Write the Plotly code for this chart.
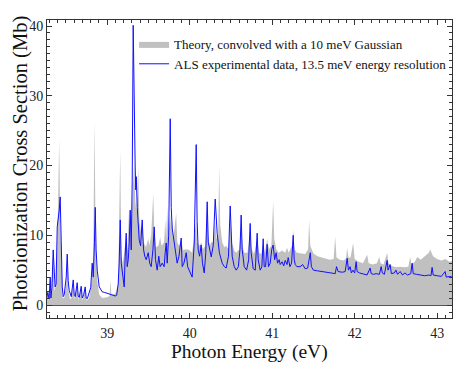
import plotly.graph_objects as go

# Theory, convolved with a 10 meV Gaussian (energy in eV, cross section in Mb)
theory_ev = [
    38.262, 38.28, 38.29, 38.309, 38.32, 38.345, 38.36, 38.38, 38.394, 38.418,
    38.43, 38.442, 38.46, 38.479, 38.503, 38.515, 38.53, 38.55, 38.564, 38.588,
    38.6, 38.636, 38.65, 38.685, 38.7, 38.733, 38.75, 38.782, 38.81, 38.83,
    38.845, 38.86, 38.879, 38.903, 38.94, 39.0, 39.03, 39.04, 39.05, 39.097,
    39.133, 39.158, 39.17, 39.19, 39.23, 39.245, 39.265, 39.28, 39.3, 39.315,
    39.327, 39.34, 39.352, 39.364, 39.376, 39.39, 39.41, 39.424, 39.44, 39.47,
    39.497, 39.51, 39.533, 39.558, 39.57, 39.59, 39.62, 39.642, 39.66, 39.69,
    39.703, 39.715, 39.727, 39.74, 39.764, 39.776, 39.788, 39.8, 39.836, 39.85,
    39.87, 39.897, 39.92, 39.958, 39.994, 40.03, 40.065, 40.079, 40.09, 40.12,
    40.139, 40.16, 40.19, 40.212, 40.225, 40.245, 40.261, 40.29, 40.309, 40.325,
    40.345, 40.358, 40.37, 40.394, 40.42, 40.442, 40.47, 40.491, 40.51, 40.54,
    40.564, 40.6, 40.624, 40.64, 40.661, 40.7, 40.733, 40.75, 40.78, 40.818,
    40.84, 40.87, 40.891, 40.91, 40.939, 40.96, 40.99, 41.012, 41.025, 41.05,
    41.08, 41.12, 41.158, 41.18, 41.2, 41.24, 41.255, 41.27, 41.3, 41.35,
    41.4, 41.435, 41.448, 41.462, 41.5, 41.55, 41.6, 41.65, 41.7, 41.745,
    41.764, 41.78, 41.82, 41.86, 41.895, 41.909, 41.925, 41.95, 41.982, 42.0,
    42.05, 42.1, 42.152, 42.17, 42.22, 42.27, 42.297, 42.315, 42.35, 42.394,
    42.41, 42.45, 42.5, 42.55, 42.6, 42.65, 42.673, 42.69, 42.73, 42.758,
    42.8, 42.85, 42.9, 42.915, 42.95, 43.0, 43.05, 43.1, 43.15, 43.182,
]
theory_mb = [
    0.5, 2.0, 0.6, 4.2, 0.8, 8.0, 2.0, 3.0, 8.0, 23.8,
    12.0, 6.0, 1.0, 1.0, 3.0, 6.5, 2.0, 0.8, 1.0, 3.0,
    0.8, 2.8, 0.7, 2.5, 0.6, 2.5, 0.6, 1.0, 3.0, 5.0,
    26.5, 9.0, 3.5, 1.5, 1.0, 1.1, 1.3, 3.6, 1.5, 1.6,
    3.0, 22.2, 7.0, 6.0, 10.0, 7.5, 13.9, 9.0, 14.0, 19.0,
    20.4, 15.0, 13.5, 16.0, 19.6, 12.0, 10.5, 12.2, 9.0, 8.3,
    9.5, 8.5, 10.0, 16.0, 11.0, 8.3, 8.5, 9.7, 8.5, 9.0,
    12.2, 9.5, 14.0, 10.0, 13.0, 11.0, 12.2, 9.5, 13.2, 9.0,
    8.5, 9.3, 7.9, 8.0, 7.9, 7.5, 10.3, 12.0, 9.0, 8.5,
    9.0, 8.0, 8.5, 15.0, 10.0, 8.5, 9.0, 9.0, 12.0, 9.5,
    10.0, 20.0, 11.5, 9.0, 8.3, 8.5, 8.0, 12.0, 9.0, 7.8,
    7.5, 8.0, 11.5, 8.5, 7.5, 7.5, 10.5, 8.0, 7.3, 9.5,
    7.5, 7.3, 9.0, 7.5, 9.5, 8.0, 8.5, 15.0, 9.5, 8.0,
    7.5, 7.8, 7.5, 8.2, 7.5, 8.5, 10.8, 8.0, 7.5, 7.4,
    7.3, 8.0, 12.2, 8.5, 7.4, 7.0, 6.8, 6.6, 6.5, 6.6,
    9.8, 6.8, 6.5, 6.4, 6.6, 8.2, 6.8, 6.8, 8.9, 6.6,
    6.2, 6.0, 7.2, 6.0, 5.8, 6.0, 6.9, 6.0, 5.8, 7.5,
    6.0, 5.6, 5.4, 5.5, 5.4, 5.5, 6.9, 5.8, 6.2, 6.9,
    6.5, 7.0, 7.5, 8.0, 7.0, 6.6, 6.4, 6.6, 6.2, 6.3,
]

# ALS experimental data, 13.5 meV energy resolution
als_ev = [
    38.262, 38.28, 38.295, 38.309, 38.318, 38.33, 38.345, 38.355, 38.368, 38.38,
    38.394, 38.418, 38.43, 38.442, 38.455, 38.467, 38.479, 38.503, 38.515, 38.527,
    38.539, 38.564, 38.588, 38.6, 38.612, 38.636, 38.648, 38.661, 38.685, 38.697,
    38.715, 38.733, 38.745, 38.758, 38.782, 38.8, 38.818, 38.83, 38.845, 38.855,
    38.865, 38.879, 38.903, 38.939, 38.97, 39.0, 39.03, 39.06, 39.097, 39.115,
    39.133, 39.145, 39.158, 39.17, 39.182, 39.206, 39.218, 39.23, 39.242, 39.255,
    39.267, 39.279, 39.291, 39.303, 39.315, 39.327, 39.339, 39.346, 39.352, 39.364,
    39.376, 39.388, 39.405, 39.424, 39.44, 39.455, 39.473, 39.497, 39.515, 39.533,
    39.555, 39.57, 39.585, 39.606, 39.625, 39.642, 39.667, 39.69, 39.703, 39.715,
    39.727, 39.745, 39.764, 39.776, 39.788, 39.812, 39.836, 39.848, 39.87, 39.897,
    39.909, 39.93, 39.958, 39.975, 39.994, 40.03, 40.055, 40.079, 40.09, 40.103,
    40.12, 40.139, 40.155, 40.176, 40.195, 40.212, 40.225, 40.245, 40.261, 40.285,
    40.309, 40.333, 40.36, 40.394, 40.42, 40.442, 40.47, 40.491, 40.503, 40.515,
    40.54, 40.564, 40.59, 40.61, 40.624, 40.636, 40.661, 40.69, 40.715, 40.733,
    40.745, 40.77, 40.795, 40.818, 40.83, 40.855, 40.875, 40.891, 40.903, 40.92,
    40.939, 40.955, 40.976, 40.995, 41.012, 41.03, 41.048, 41.065, 41.085, 41.097,
    41.12, 41.14, 41.158, 41.18, 41.194, 41.215, 41.235, 41.255, 41.267, 41.28,
    41.3, 41.339, 41.37, 41.4, 41.43, 41.448, 41.462, 41.475, 41.5, 41.55,
    41.6, 41.65, 41.7, 41.74, 41.764, 41.78, 41.8, 41.85, 41.885, 41.909,
    41.925, 41.945, 41.96, 41.98, 42.0, 42.018, 42.03, 42.06, 42.1, 42.15,
    42.188, 42.2, 42.23, 42.26, 42.3, 42.321, 42.335, 42.36, 42.394, 42.405,
    42.43, 42.445, 42.48, 42.5, 42.52, 42.552, 42.58, 42.61, 42.64, 42.68,
    42.697, 42.71, 42.75, 42.8, 42.85, 42.9, 42.925, 42.939, 42.952, 43.0,
    43.05, 43.097, 43.11, 43.15, 43.182,
]
als_mb = [
    0.8, 1.8, 0.9, 4.0, 1.0, 2.5, 7.9, 5.0, 2.6, 3.0,
    11.2, 13.6, 15.5, 9.3, 2.6, 1.2, 1.5, 4.0, 7.3, 3.5,
    2.1, 1.2, 3.6, 1.4, 1.2, 3.2, 1.3, 1.1, 2.7, 1.0,
    1.5, 2.6, 1.0, 0.9, 1.7, 2.5, 6.0, 4.0, 9.0, 14.0,
    8.0, 5.0, 2.6, 1.9, 1.8, 1.7, 1.6, 1.5, 1.3, 1.4,
    3.0, 6.0, 12.2, 6.0, 5.0, 2.6, 7.0, 10.3, 5.5, 6.5,
    9.0, 13.6, 7.9, 17.9, 40.1, 25.0, 19.8, 16.5, 18.4, 14.0,
    11.0, 9.3, 8.5, 12.2, 8.0, 7.0, 6.5, 7.5, 6.0, 5.5,
    8.0, 11.2, 6.5, 5.0, 7.0, 5.5, 6.0, 5.5, 7.5, 8.9,
    6.0, 10.0, 26.7, 14.0, 11.0, 9.3, 7.0, 6.0, 7.0, 9.6,
    5.5, 6.0, 7.5, 5.5, 5.0, 4.0, 8.9, 23.0, 12.0, 7.9,
    7.0, 8.6, 6.0, 4.6, 7.5, 14.8, 9.0, 7.5, 6.9, 8.5,
    15.2, 10.3, 7.5, 6.0, 5.5, 5.3, 7.0, 14.2, 9.5, 7.0,
    5.5, 5.0, 5.5, 8.0, 12.9, 8.0, 5.5, 5.0, 6.5, 11.7,
    7.5, 5.2, 5.0, 10.3, 6.5, 5.0, 5.5, 9.5, 5.5, 5.5,
    8.7, 5.5, 6.0, 8.0, 8.6, 6.5, 7.5, 6.0, 6.5, 5.8,
    6.2, 5.6, 6.4, 5.8, 6.8, 5.5, 6.0, 10.0, 6.5, 5.8,
    5.5, 5.5, 5.8, 5.2, 5.3, 6.5, 7.5, 5.5, 5.0, 4.9,
    4.8, 4.8, 4.6, 4.6, 4.5, 5.5, 4.8, 4.7, 4.8, 6.7,
    5.0, 5.5, 4.6, 5.0, 4.6, 6.2, 4.8, 4.6, 4.5, 4.3,
    5.3, 4.5, 4.4, 4.5, 4.4, 5.5, 4.6, 4.4, 6.4, 5.0,
    5.8, 4.5, 4.6, 5.0, 4.4, 4.8, 4.3, 4.6, 4.3, 4.5,
    6.0, 4.5, 4.4, 4.3, 4.2, 4.3, 4.2, 5.4, 4.3, 4.2,
    4.1, 4.8, 4.0, 4.1, 4.0,
]

x_ticks = [39, 40, 41, 42, 43]
y_ticks = [0, 10, 20, 30, 40]

SERIF = "Liberation Serif, Times New Roman, serif"

fig = go.Figure()

fig.add_trace(go.Scatter(
    x=theory_ev, y=theory_mb, mode="lines", fill="tozeroy",
    line=dict(color="#c0c0c0", width=0), fillcolor="#c0c0c0",
    name="Theory, convolved with a 10 meV Gaussian",
))
fig.add_trace(go.Scatter(
    x=als_ev, y=als_mb, mode="lines",
    line=dict(color="#1010ff", width=1),
    name="ALS experimental data, 13.5 meV energy resolution",
))

axis_common = dict(
    showline=True, linecolor="#333", linewidth=1, mirror="allticks",
    ticks="inside", ticklen=5, tickcolor="#333", showgrid=False,
    automargin=False,
    tickfont=dict(family=SERIF, size=14, color="#222"),
)

fig.update_xaxes(
    range=[38.27, 43.18], tickvals=x_ticks, zeroline=False,
    ticklabelstandoff=2,
    minor=dict(ticks="inside", dtick=0.1, ticklen=3, tickcolor="#333"),
    **axis_common,
)
fig.update_yaxes(
    range=[-1.86, 40.86], tickvals=y_ticks,
    zeroline=True, zerolinecolor="#555", zerolinewidth=1,
    minor=dict(ticks="inside", dtick=1, ticklen=3, tickcolor="#333"),
    **axis_common,
)

# axis titles as annotations so they sit where the original frame labels are
fig.add_annotation(
    text="Photon Energy (eV)", xref="paper", yref="paper",
    x=0.5, y=-0.113, xanchor="center", yanchor="middle", showarrow=False,
    font=dict(family=SERIF, size=19.5, color="#111"),
)
fig.add_annotation(
    text="Photoionization Cross Section (Mb)", xref="paper", yref="paper",
    x=-0.066, y=0.52, xanchor="center", yanchor="middle", showarrow=False,
    textangle=-90, font=dict(family=SERIF, size=20.5, color="#111"),
)

# the page has an 8 px body margin, so the figure is shrunk by that much
fig.update_layout(
    width=463, height=362,
    margin=dict(l=39, r=19, t=12, b=52),
    plot_bgcolor="white", paper_bgcolor="white",
    showlegend=True,
    legend=dict(
        x=0.215, y=0.97, xanchor="left", yanchor="top",
        bgcolor="rgba(0,0,0,0)", borderwidth=0,
        font=dict(family=SERIF, size=13, color="#111"),
        itemwidth=30, tracegroupgap=0,
    ),
)

fig.write_html("out.html")
